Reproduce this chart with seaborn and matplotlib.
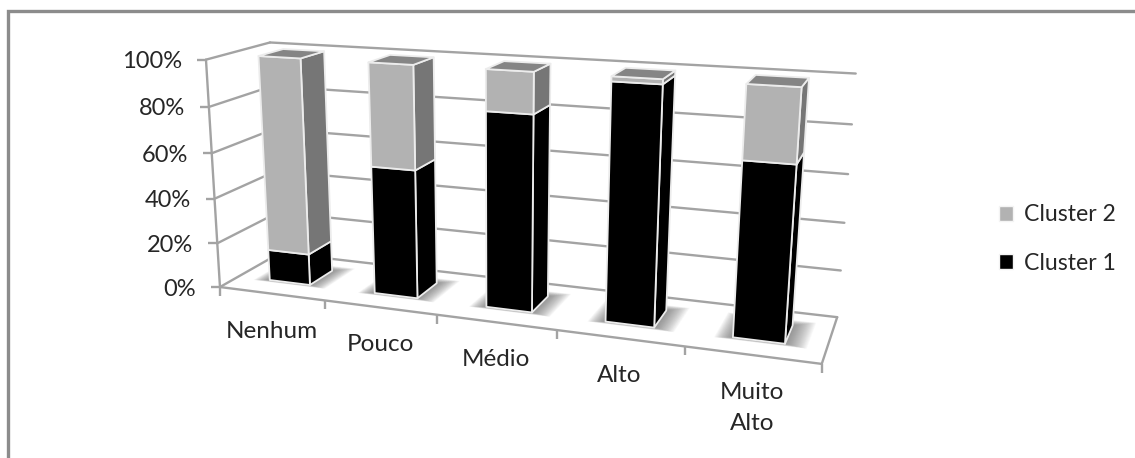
import numpy as np
import pandas as pd
import matplotlib
matplotlib.use("Agg")
import matplotlib.pyplot as plt
from matplotlib.patches import Polygon, Patch
import seaborn as sns

# Stacked shares per answer category (percent)
categories = ["Nenhum", "Pouco", "Médio", "Alto", "Muito\nAlto"]
cluster_1 = [14, 56, 83, 98, 71]
cluster_2 = [86, 44, 17, 2, 29]
value_ticks = [0, 20, 40, 60, 80, 100]

GRID = "#a3a3a3"
FRAME = "#8c8c8c"
TEXT = "#262626"
EDGE = "#ececec"
FACES = {
    "Cluster 1": dict(front="#000000", side="#000000", top="#000000"),
    "Cluster 2": dict(front="#b2b2b2", side="#767676", top="#858585"),
}

sns.set_theme(style="white")
plt.rcParams["font.family"] = ["Lato", "DejaVu Sans"]

fig, ax = plt.subplots(figsize=(11.35, 4.58), dpi=100)
ax.set_position([0, 0, 1, 1])
ax.set_xlim(0, 1135)
ax.set_ylim(458, 0)
ax.axis("off")

# Perspective camera of the 3D box: (category, depth, percent) -> canvas position
box_corners = [
    ((0, 0, 0), (221, 287)), ((0, 0, 100), (205, 59)),
    ((0, 1, 0), (279, 253)), ((0, 1, 100), (271, 43)),
    ((5, 0, 0), (821, 364)), ((5, 0, 100), (842, 98)),
    ((5, 1, 0), (838, 317)), ((5, 1, 100), (855, 73)),
]
rows = []
for (cx, cy, cz), (u, v) in box_corners:
    p = [cx, cy, cz, 1]
    rows.append(p + [0, 0, 0, 0] + [-u * k for k in p])
    rows.append([0, 0, 0, 0] + p + [-v * k for k in p])
camera = np.linalg.svd(np.array(rows, float))[2][-1].reshape(3, 4)


def project(cat, depth, pct):
    h = camera @ np.array([cat, depth, pct, 1.0])
    return h[0] / h[2], h[1] / h[2]


def face(points, color, z, edge=EDGE, lw=1.3):
    ax.add_patch(Polygon([project(*p) for p in points], closed=True, facecolor=color,
                         edgecolor=edge, linewidth=lw, joinstyle="round", zorder=z))


# Wall grid, floor outline and side wall lines go through one tidy table
segments = []


def add_line(name, start, end):
    for s in (start, end):
        x, y = project(*s)
        segments.append(dict(name=name, x=x, y=y))


n = len(categories)
for t in value_ticks:
    add_line(f"back{t}", (0, 1, t), (n, 1, t))
    add_line(f"side{t}", (0, 0, t), (0, 1, t))
add_line("axis", (0, 0, 0), (0, 0, 100))
add_line("front", (0, 0, 0), (n, 0, 0))
add_line("right", (n, 0, 0), (n, 1, 0))
grid = pd.DataFrame(segments)
sns.lineplot(data=grid, x="x", y="y", units="name", estimator=None, sort=False,
             color=GRID, linewidth=1.7, ax=ax, legend=False, zorder=1)
ax.set_xlim(0, 1135)
ax.set_ylim(458, 0)

# Value axis ticks and labels
for t in value_ticks:
    x, y = project(0, 0, t)
    ax.plot([x - 9, x], [y, y], color=GRID, lw=1.7, zorder=1, solid_capstyle="butt")
    ax.text(x - 24, y + 2, f"{t}%", ha="right", va="center", fontsize=17, color=TEXT)

# Category axis ticks and labels
for i in range(n + 1):
    x, y = project(i, 0, 0)
    ax.plot([x, x], [y, y + 9], color=GRID, lw=1.7, zorder=1, solid_capstyle="butt")
for i, label in enumerate(categories):
    x, y = project(i + 0.5, 0, 0)
    ax.text(x, y + 27, label, ha="center", va="top", fontsize=17.5, color=TEXT, linespacing=1.6)

# Bars: soft floor shadow first, then each stacked segment from the bottom up
half_width = 0.195
near, far = 0.30, 0.70
for i in range(n):
    c0, c1 = i + 0.5 - half_width, i + 0.5 + half_width
    for grow in np.linspace(0.15, 0.005, 24):
        quad = [(c0 - grow * 0.9, near - grow * 0.3, 0), (c1 + grow * 1.1, near - grow * 0.3, 0),
                (c1 + grow * 1.1, far + grow * 0.8, 0), (c0 - grow * 0.9, far + grow * 0.8, 0)]
        ax.add_patch(Polygon([project(*p) for p in quad], closed=True, facecolor="#606060",
                             edgecolor="none", alpha=0.04, zorder=2))
    base = 0
    for name, values in (("Cluster 1", cluster_1), ("Cluster 2", cluster_2)):
        top = base + values[i]
        col = FACES[name]
        z = 3 + i * 0.1
        face([(c1, near, base), (c1, far, base), (c1, far, top), (c1, near, top)], col["side"], z)
        face([(c0, near, base), (c1, near, base), (c1, near, top), (c0, near, top)], col["front"], z)
        if name == "Cluster 2":
            face([(c0, near, top), (c1, near, top), (c1, far, top), (c0, far, top)], col["top"], z)
        base = top

# Outer frame: only the top and left borders are drawn
ax.plot([8, 8, 1135], [458, 11, 11], color=FRAME, lw=2.4, zorder=5, solid_joinstyle="miter")

handles = [Patch(facecolor=FACES[k]["front"], edgecolor="#f4f4f4", linewidth=1)
           for k in ("Cluster 2", "Cluster 1")]
ax.legend(handles, ["Cluster 2", "Cluster 1"], loc="center left",
          bbox_to_anchor=(999, 239), bbox_transform=ax.transData, frameon=False,
          fontsize=16.6, handlelength=0.6, handleheight=0.6, handletextpad=0.5,
          labelspacing=1.18, borderpad=0, borderaxespad=0, labelcolor=TEXT)

fig.savefig("out.png", dpi=100, facecolor="white")
